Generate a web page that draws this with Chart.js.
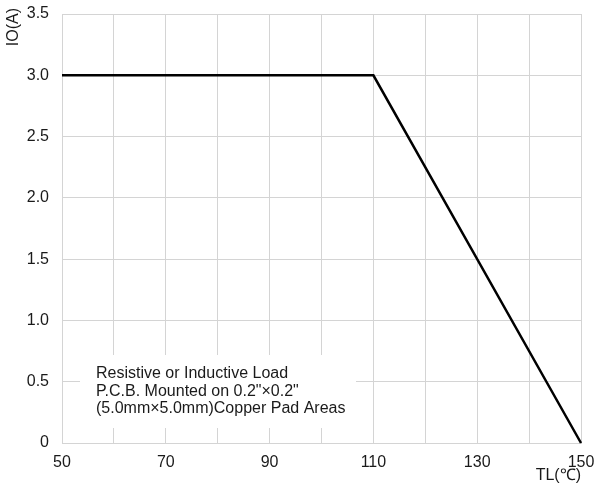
<!DOCTYPE html>
<html lang="en">
<head>
    <meta charset="UTF-8">
    <title>IO vs TL derating</title>
    <script src="https://cdn.jsdelivr.net/npm/chart.js"></script>
    <style>
        body { margin: 0; background: #fff; }
        #chart { display: block; }
    </style>
</head>
<body>
    <canvas id="chart" width="607" height="496"></canvas>

    <script>
        // curve
        const tempC = [50, 110, 150];
        const currentA = [3.0, 3.0, 0];
        const xLabeled = [50, 70, 90, 110, 130, 150];
        const noteLines = [
            "Resistive or Inductive Load",
            "P.C.B. Mounted on 0.2\"×0.2\"",
            "(5.0mm×5.0mm)Copper Pad Areas"
        ];

        const FONT = "'Liberation Sans', Arial, sans-serif";
        const GRID = "#d4d4d4";
        const INK = "#1a1a1a";

        // note box + axis titles, drawn over the grid but under the curve
        const extras = {
            id: "extras",
            beforeDatasetsDraw(chart) {
                const c = chart.ctx;
                c.save();
                c.fillStyle = "#fff";
                c.fillRect(80, 355, 276, 73);
                c.fillStyle = INK;
                c.font = "16px " + FONT;
                c.textBaseline = "middle";
                noteLines.forEach((t, i) => c.fillText(t, 96, 374 + i * 17.5));
                c.restore();
            },
            afterDraw(chart) {
                const c = chart.ctx;
                c.save();
                c.fillStyle = INK;
                c.font = "16px " + FONT;
                c.textBaseline = "middle";
                c.textAlign = "right";
                c.fillText("TL(\u2103)", 581, 476);
                c.translate(14, 8);
                c.rotate(-Math.PI / 2);
                c.fillText("IO(A)", 0, 0);
                c.restore();
            }
        };

        new Chart(document.getElementById("chart"), {
            type: "line",
            data: {
                datasets: [{
                    data: tempC.map((t, i) => ({ x: t, y: currentA[i] })),
                    borderColor: "#000",
                    borderWidth: 2.5,
                    pointRadius: 0,
                    tension: 0,
                    clip: false
                }]
            },
            options: {
                responsive: false,
                animation: false,
                layout: { padding: { top: 14, right: 26, left: 0, bottom: 0 } },
                plugins: { legend: { display: false }, tooltip: { enabled: false } },
                scales: {
                    x: {
                        type: "linear",
                        min: 50,
                        max: 150,
                        afterFit(s) {
                            s.height = 53;
                            s.paddingLeft = 0;
                            s.paddingRight = 0;
                        },
                        afterBuildTicks(s) {
                            s.ticks = [];
                            for (let v = 50; v <= 150; v += 10) s.ticks.push({ value: v });
                        },
                        ticks: {
                            autoSkip: false,
                            maxRotation: 0,
                            padding: 10,
                            color: INK,
                            font: { family: FONT, size: 16 },
                            callback: v => xLabeled.includes(v) ? String(v) : ""
                        },
                        grid: { color: GRID, drawTicks: false, lineWidth: 1 },
                        border: { color: GRID }
                    },
                    y: {
                        min: 0,
                        max: 3.5,
                        afterFit(s) {
                            s.width = 62;
                            s.paddingTop = 0;
                            s.paddingBottom = 0;
                        },
                        ticks: {
                            stepSize: 0.5,
                            padding: 13,
                            color: INK,
                            font: { family: FONT, size: 16 },
                            callback: v => v === 0 ? "0" : v.toFixed(1)
                        },
                        grid: { color: GRID, drawTicks: false, lineWidth: 1 },
                        border: { color: GRID }
                    }
                }
            },
            plugins: [extras]
        });
    </script>
</body>
</html>
